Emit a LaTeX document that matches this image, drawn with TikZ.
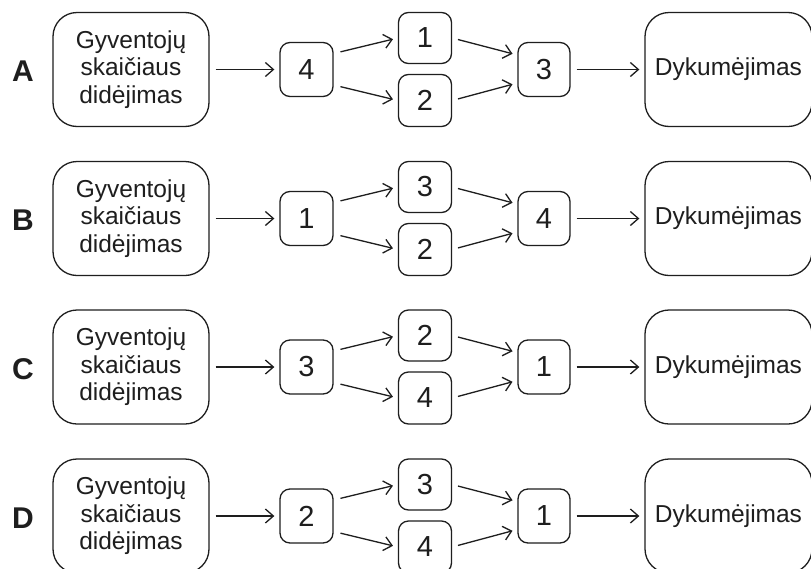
\documentclass[tikz,border=0pt]{standalone}
\usepackage{fontspec}
\setmainfont{Liberation Sans}
\usetikzlibrary{arrows.meta}
\definecolor{ink}{HTML}{1E1E1E}
\tikzset{
  base/.style={draw=ink, text=ink, line width=1.3pt, inner sep=0pt, align=center},
  bigbox/.style={base, rounded corners=24pt, minimum width=156pt, minimum height=114pt,
    font=\fontsize{24.5}{27.5}\selectfont},
  endbox/.style={bigbox, minimum width=167pt},
  numbox/.style={base, rounded corners=10pt, minimum width=53pt, minimum height=54pt,
    font=\fontsize{29}{30}\selectfont},
  lbl/.style={text=ink, inner sep=0pt, font=\fontsize{30}{32}\selectfont\bfseries},
  arr/.style={draw=ink, line width=1.3pt, -{Straight Barb[length=8pt,width=14pt,line width=1.3pt]},
    shorten <=6pt, shorten >=5pt},
}
% #1 prefix, #2 centre y, #3 letter, #4 middle, #5 upper, #6 lower, #7 right
\newcommand\diagrow[7]{%
  \node[lbl] (#1lab) at (23,#2+2) {#3};
  \node[bigbox] (#1src) at (131,#2) {Gyventojų\\skaičiaus\\didėjimas};
  \node[numbox] (#1m) at (306.5,#2) {#4};
  \node[numbox, minimum height=51pt] (#1u) at (425,#2-31.5) {#5};
  \node[numbox, minimum height=52pt] (#1d) at (425,#2+31) {#6};
  \node[numbox, minimum width=52pt] (#1r) at (544,#2) {#7};
  \node[endbox] (#1dst) at (728.5,#2) {Dykumėjimas};
  \draw[arr] (#1src) -- (#1m);
  \draw[arr, shorten <=7pt] ([yshift=16pt]#1m.east) -- (#1u.west);
  \draw[arr, shorten <=7pt] ([yshift=-15.5pt]#1m.east) -- (#1d.west);
  \draw[arr] (#1u.east) -- ([yshift=14.5pt]#1r.west);
  \draw[arr] (#1d.east) -- ([yshift=-13.5pt]#1r.west);
  \draw[arr] (#1r) -- (#1dst);
}
\begin{document}
\begin{tikzpicture}[x=1pt, y=-1pt]
  \useasboundingbox[fill=white] (0,0) rectangle (811,568);
  \diagrow{a}{69.5}{A}{4}{1}{2}{3}
  \diagrow{b}{218.5}{B}{1}{3}{2}{4}
  \diagrow{c}{367}{C}{3}{2}{4}{1}
  \diagrow{d}{516}{D}{2}{3}{4}{1}
\end{tikzpicture}
\end{document}
